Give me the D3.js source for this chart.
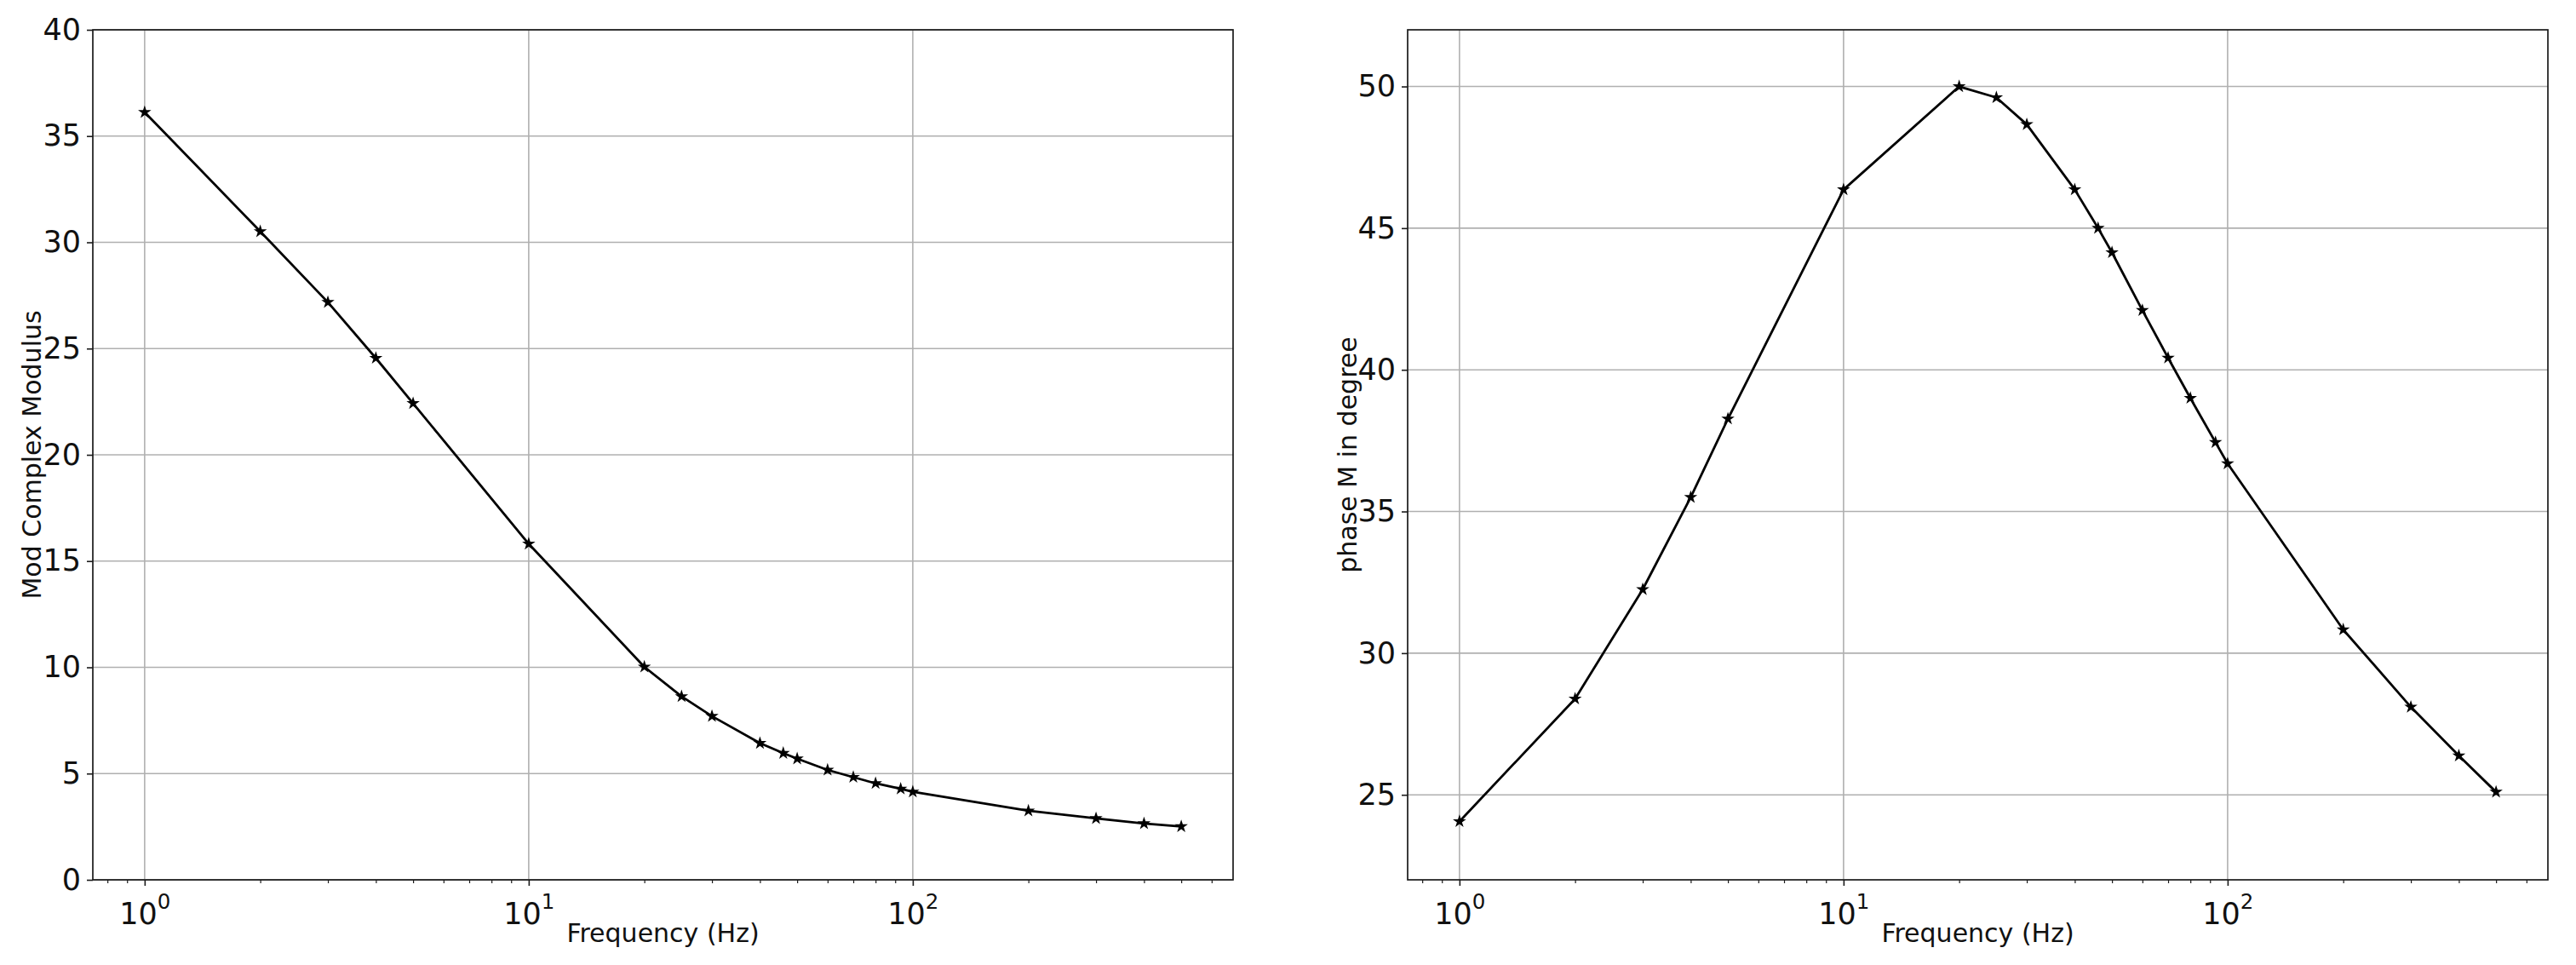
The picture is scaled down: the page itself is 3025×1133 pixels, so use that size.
<!DOCTYPE html>
<html>
<head>
<meta charset="utf-8">
<script src="https://cdn.jsdelivr.net/npm/d3@7"></script>
<style>
  html, body { margin: 0; padding: 0; background: #ffffff; }
  svg { display: block; font-family: "DejaVu Sans", sans-serif; }
</style>
</head>
<body>
<script>
// ---- data ----
const frequency = [1, 2, 3, 4, 5, 10, 20, 25, 30, 40, 46, 50, 60, 70, 80, 93, 100, 200, 300, 400, 500];
const modulus   = [36.12, 30.51, 27.18, 24.55, 22.42, 15.81, 10.02, 8.63, 7.70, 6.43, 5.96, 5.70, 5.17, 4.83, 4.54, 4.28, 4.14, 3.25, 2.89, 2.65, 2.51];
const phase     = [24.06, 28.39, 32.25, 35.50, 38.27, 46.36, 50.00, 49.61, 48.66, 46.36, 45.00, 44.14, 42.10, 40.42, 39.00, 37.44, 36.69, 30.83, 28.10, 26.38, 25.10];
const xMajorTicks = [1, 10, 100];
const xTickExponents = ["0", "1", "2"];
const modulusTicks = [0, 5, 10, 15, 20, 25, 30, 35, 40];
const phaseTicks = [25, 30, 35, 40, 45, 50];
const modulusDomain = [0, 40];
const phaseDomain = [22, 52];
const xLabel = "Frequency (Hz)";
const modulusLabel = "Mod Complex Modulus";
const phaseLabel = "phase M in degree";

// ---- layout ----
const W = 3025, H = 1133;
const svg = d3.select("body").append("svg").attr("width", W).attr("height", H);
svg.append("rect").attr("width", W).attr("height", H).attr("fill", "#fff");

const logMin = Math.log10(d3.min(frequency)), logMax = Math.log10(d3.max(frequency));
const pad = 0.05 * (logMax - logMin);
const xDomain = [Math.pow(10, logMin - pad), Math.pow(10, logMax + pad)];

// minor ticks on log axis
const minorTicks = [];
for (let e = -1; e <= 3; e++) {
  for (let m = 2; m <= 9; m++) {
    const v = m * Math.pow(10, e);
    if (v >= xDomain[0] && v <= xDomain[1]) minorTicks.push(v);
  }
}

const TICK_FONT = 35;
const LABEL_FONT = 30;

function panel(cfg) {
  const { left, right, top, bottom, values, yDomain, yTicks, yLabel, yLabelX } = cfg;
  const g = svg.append("g");
  const x = d3.scaleLog().domain(xDomain).range([left, right]);
  const y = d3.scaleLinear().domain(yDomain).range([bottom, top]);

  // grid
  g.append("g").selectAll("line.vg").data(xMajorTicks).join("line")
    .attr("x1", d => x(d)).attr("x2", d => x(d))
    .attr("y1", top).attr("y2", bottom)
    .attr("stroke", "#b0b0b0").attr("stroke-width", 1.6);
  g.append("g").selectAll("line.hg").data(yTicks).join("line")
    .attr("x1", left).attr("x2", right)
    .attr("y1", d => y(d)).attr("y2", d => y(d))
    .attr("stroke", "#b0b0b0").attr("stroke-width", 1.6);

  // line
  const pts = frequency.map((f, i) => [f, values[i]]);
  g.append("path").datum(pts)
    .attr("fill", "none").attr("stroke", "#000").attr("stroke-width", 2.8)
    .attr("stroke-linejoin", "round")
    .attr("d", d3.line().x(d => x(d[0])).y(d => y(d[1])));

  // star markers
  const star = d3.symbol().type(d3.symbolStar).size(75);
  g.append("g").selectAll("path").data(pts).join("path")
    .attr("transform", d => `translate(${x(d[0])},${y(d[1])})`)
    .attr("d", star).attr("fill", "#000");

  // frame
  g.append("rect").attr("x", left).attr("y", top)
    .attr("width", right - left).attr("height", bottom - top)
    .attr("fill", "none").attr("stroke", "#1a1a1a").attr("stroke-width", 1.7);

  // y axis
  const ya = g.append("g").attr("transform", `translate(${left},0)`)
    .call(d3.axisLeft(y).tickValues(yTicks).tickSize(7).tickPadding(7).tickFormat(d3.format("d")));
  ya.select(".domain").remove();
  ya.selectAll(".tick line").attr("stroke", "#1a1a1a").attr("stroke-width", 1.6);
  ya.selectAll(".tick text").attr("font-size", TICK_FONT).attr("fill", "#111")
    .attr("font-family", "DejaVu Sans, sans-serif");

  // x axis major
  const xa = g.append("g").attr("transform", `translate(0,${bottom})`)
    .call(d3.axisBottom(x).tickValues(xMajorTicks).tickSize(7).tickPadding(10).tickFormat(() => ""));
  xa.select(".domain").remove();
  xa.selectAll(".tick line").attr("stroke", "#1a1a1a").attr("stroke-width", 1.6);
  xa.selectAll(".tick text").each(function (d, i) {
    const t = d3.select(this).text(null)
      .attr("font-size", TICK_FONT).attr("fill", "#111")
      .attr("font-family", "DejaVu Sans, sans-serif")
      .attr("dy", "1.0em");
    t.append("tspan").text("10");
    t.append("tspan").attr("font-size", TICK_FONT * 0.7).attr("dy", "-0.75em").text(xTickExponents[i]);
  });

  // x axis minor
  const xm = g.append("g").attr("transform", `translate(0,${bottom})`)
    .call(d3.axisBottom(x).tickValues(minorTicks).tickSize(4).tickFormat(() => ""));
  xm.select(".domain").remove();
  xm.selectAll(".tick line").attr("stroke", "#1a1a1a").attr("stroke-width", 1.2);

  // labels
  g.append("text").attr("x", (left + right) / 2).attr("y", 1106)
    .attr("text-anchor", "middle").attr("font-size", LABEL_FONT).attr("fill", "#111")
    .text(xLabel);
  g.append("text")
    .attr("transform", `translate(${yLabelX},${(top + bottom) / 2}) rotate(-90)`)
    .attr("text-anchor", "middle").attr("dominant-baseline", "central")
    .attr("font-size", LABEL_FONT).attr("fill", "#111")
    .text(yLabel);
}

panel({ left: 109, right: 1448, top: 35, bottom: 1033, values: modulus,
        yDomain: modulusDomain, yTicks: modulusTicks, yLabel: modulusLabel, yLabelX: 37 });
panel({ left: 1653, right: 2992, top: 35, bottom: 1033, values: phase,
        yDomain: phaseDomain, yTicks: phaseTicks, yLabel: phaseLabel, yLabelX: 1582 });
</script>
</body>
</html>
